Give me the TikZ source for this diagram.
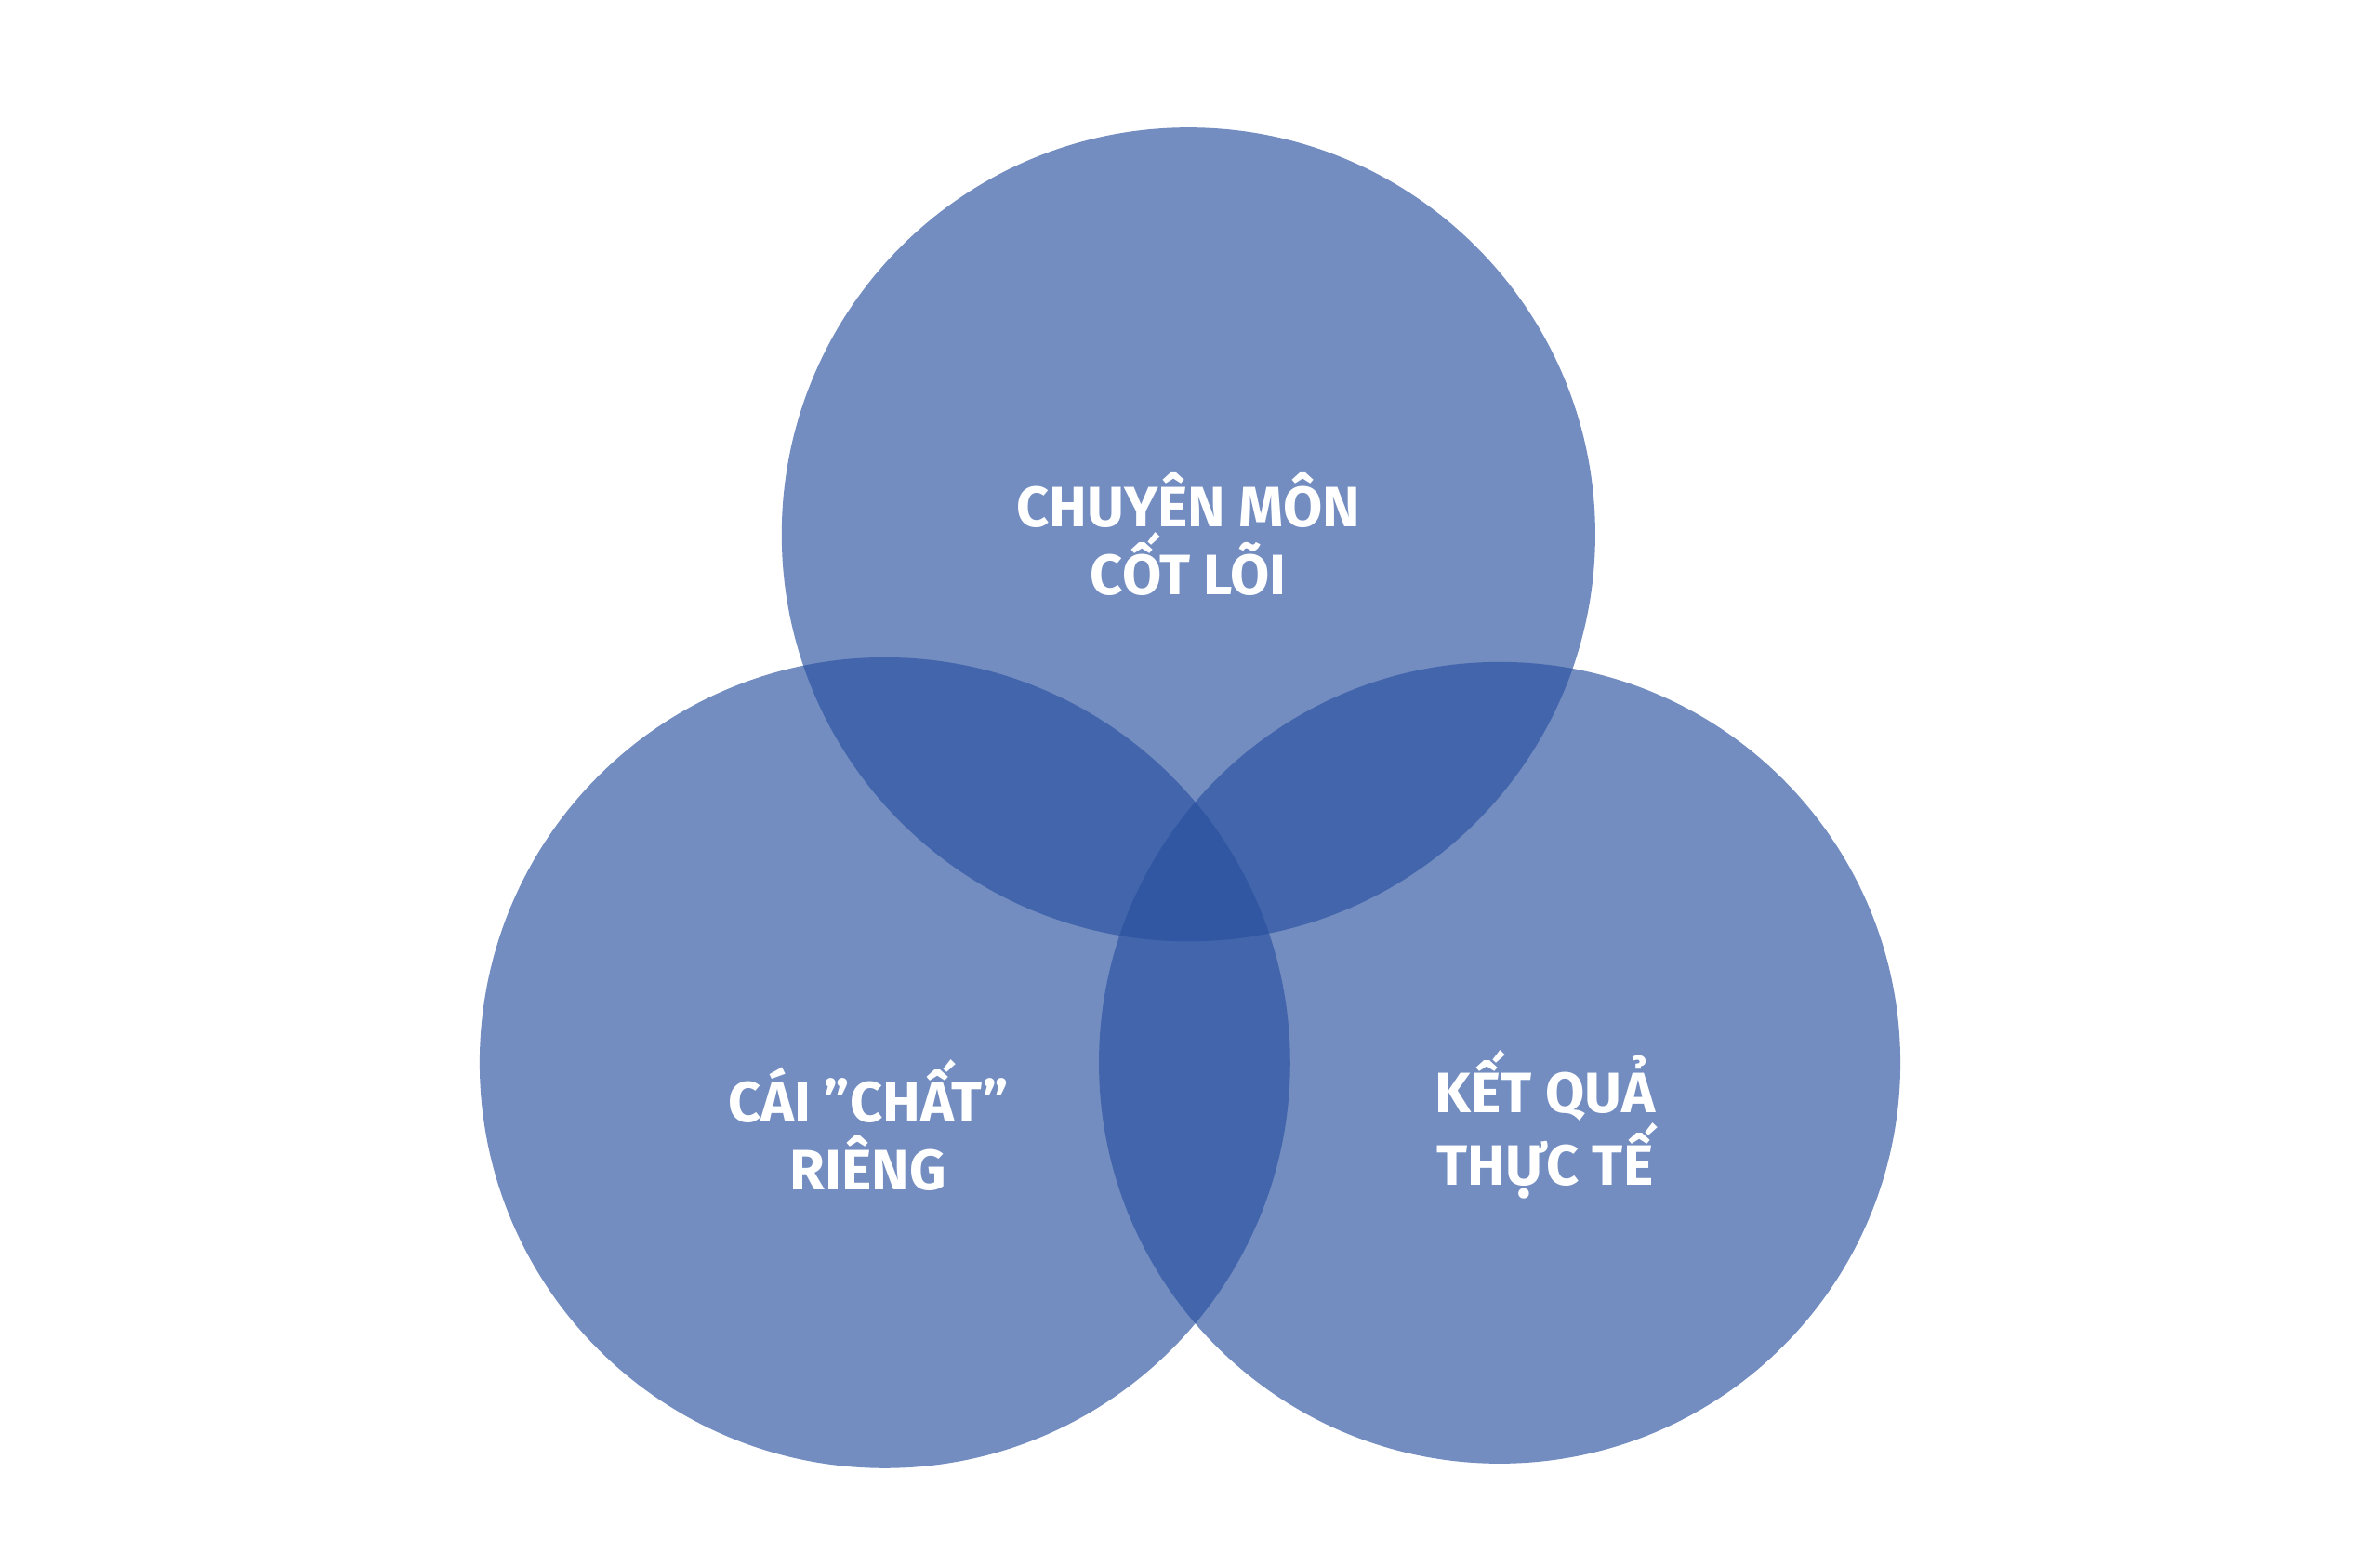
\documentclass[tikz,border=0pt]{standalone}
\usepackage{fontspec}
\setmainfont{Fira Sans}
\definecolor{c2850A0}{RGB}{40,80,160}
\tikzset{
  ring/.style={fill=c2850A0,fill opacity=0.65,draw=none},
  caption/.style={text=white,font=\bfseries\fontsize{30}{36}\selectfont,align=center,inner sep=0pt}
}
\begin{document}
\begin{tikzpicture}[y=0.80pt,x=0.80pt,yscale=-1]
  \path[fill=white] (0,0) rectangle (1568,1031);
  \path[ring] (783,352) circle (268);
  \path[ring] (583,700) circle (267);
  \path[ring] (988,700) circle (264);
  \node[caption] (core) at (783,352) {CHUYÊN MÔN\\CỐT LÕI};
  \node[caption] (style) at (572,741) {CÁI "CHẤT"\\RIÊNG};
  \node[caption] (result) at (1018,741) {KẾT QUẢ\\THỰC TẾ};
\end{tikzpicture}
\end{document}
